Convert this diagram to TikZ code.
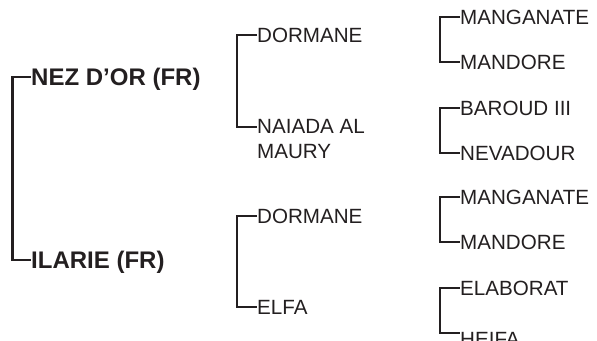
\documentclass[tikz,border=0pt]{standalone}
\usepackage{fontspec}
\setmainfont{Liberation Sans}
\definecolor{ink}{HTML}{231F20}
\begin{document}
\begin{tikzpicture}[x=1pt,y=-1pt,
  conn/.style={draw=ink,line width=2.6pt,line cap=butt,line join=miter},
  conn1/.style={conn,line width=2.9pt},
  bhorse/.style={anchor=west,inner sep=0pt,text=ink,font=\fontsize{24}{28}\selectfont\bfseries,text height=17.2pt,text depth=0pt},
  horse/.style={anchor=west,inner sep=0pt,text=ink,font=\fontsize{20.6}{25}\selectfont,text height=14.75pt,text depth=0pt},
  horsetwo/.style={anchor=north west,inner sep=0pt,text=ink,align=left,font=\fontsize{20.6}{25}\selectfont,yshift=7.4pt}]
\useasboundingbox (0,0) rectangle (597,340);
% level 1
\coordinate (r) at (12.5,168);
\node[bhorse] (a) at (31,77) {NEZ D’OR (FR)};
\node[bhorse] (b) at (31,260) {ILARIE (FR)};
\draw[conn1] (a.west) -| (r) |- (b.west);
% level 2
\coordinate (r1) at (237,80);
\node[horse] (a1) at (257,35) {DORMANE};
\node[horsetwo] (b1) at (257,127) {NAIADA AL\\MAURY};
\coordinate (b1w) at (257,127);
\draw[conn] (a1.west) -| (r1) |- (b1w);
\coordinate (r2) at (237,260);
\node[horse] (a2) at (257,216) {DORMANE};
\node[horse] (b2) at (257,307) {ELFA};
\draw[conn] (a2.west) -| (r2) |- (b2.west);
% level 3
\coordinate (s1) at (440,40);
\node[horse] (m1) at (460,17) {MANGANATE};
\node[horse] (n1) at (460,62) {MANDORE};
\draw[conn] (m1.west) -| (s1) |- (n1.west);
\coordinate (s2) at (440,130);
\node[horse] (m2) at (460,108) {BAROUD III};
\node[horse] (n2) at (460,153) {NEVADOUR};
\draw[conn] (m2.west) -| (s2) |- (n2.west);
\coordinate (s3) at (440,220);
\node[horse] (m3) at (460,197) {MANGANATE};
\node[horse] (n3) at (460,242) {MANDORE};
\draw[conn] (m3.west) -| (s3) |- (n3.west);
\coordinate (s4) at (440,310);
\node[horse] (m4) at (460,288) {ELABORAT};
\node[horse] (n4) at (460,339.5) {HEIFA};
\draw[conn] (m4.west) -| (s4) |- ([yshift=6.5pt]n4.west);
\end{tikzpicture}
\end{document}
